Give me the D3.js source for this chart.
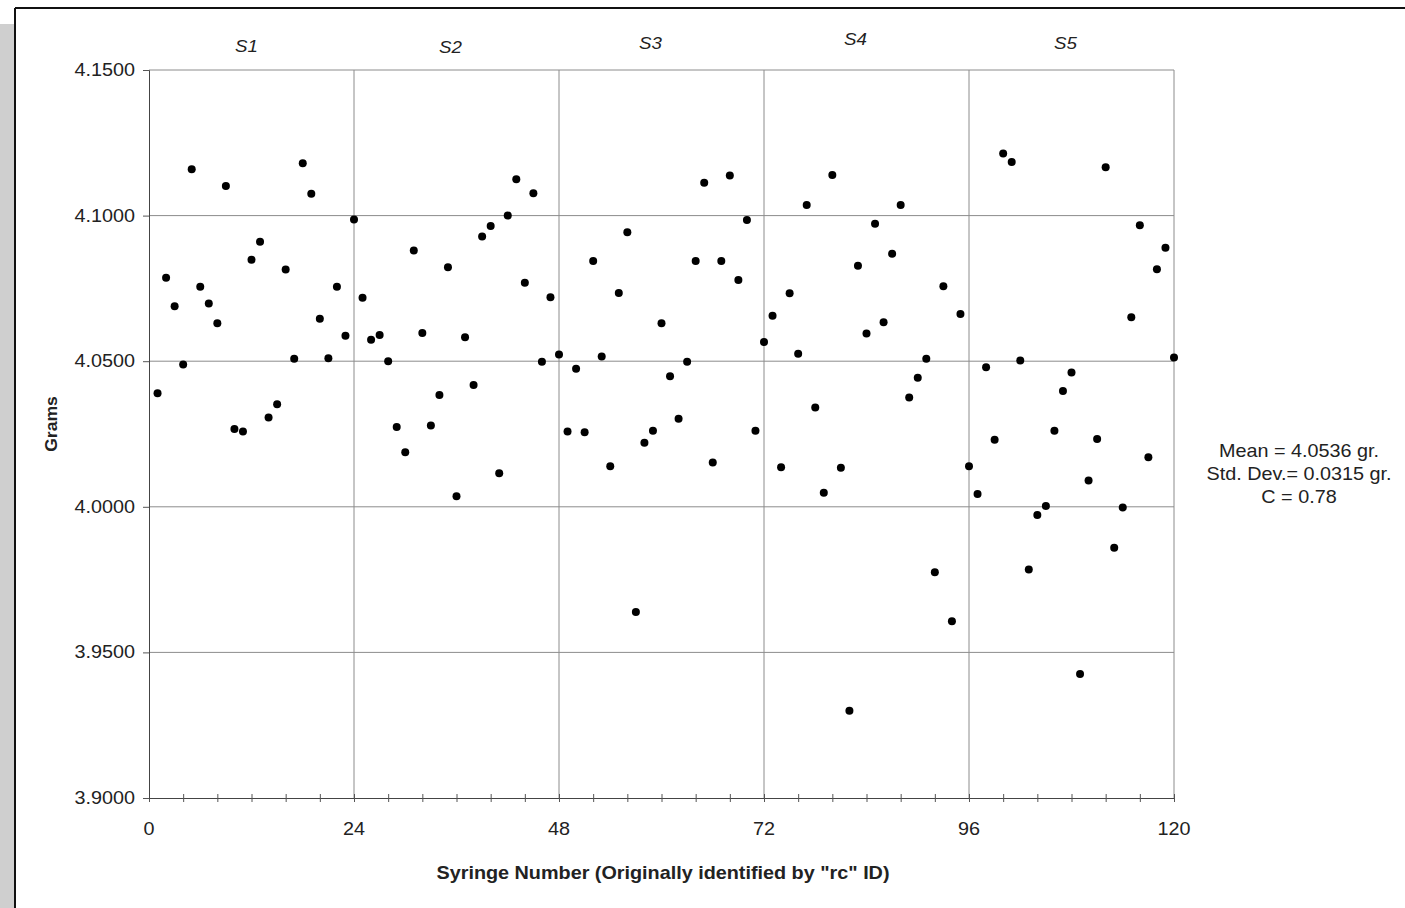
<!DOCTYPE html>
<html>
<head>
<meta charset="utf-8">
<script src="https://cdn.jsdelivr.net/npm/d3@7"></script>
<style>
  body { margin: 0; background: #fff; }
  text { font-family: Arial, "Liberation Sans", sans-serif; fill: #222; }
</style>
</head>
<body>
<svg id="chart" width="1405" height="908"></svg>
<script>
// syringe weights (grams), syringe 1..120
const grams = [
  4.0390, 4.0787, 4.0689, 4.0489, 4.1159, 4.0756, 4.0698, 4.0630, 4.1102, 4.0267,
  4.0259, 4.0848, 4.0910, 4.0307, 4.0352, 4.0815, 4.0508, 4.1180, 4.1075, 4.0646,
  4.0510, 4.0756, 4.0587, 4.0987, 4.0718, 4.0574, 4.0590, 4.0500, 4.0274, 4.0187,
  4.0880, 4.0597, 4.0279, 4.0384, 4.0823, 4.0036, 4.0582, 4.0418, 4.0928, 4.0964,
  4.0115, 4.1000, 4.1125, 4.0769, 4.1077, 4.0498, 4.0720, 4.0523, 4.0259, 4.0474,
  4.0256, 4.0844, 4.0516, 4.0139, 4.0734, 4.0943, 3.9639, 4.0220, 4.0261, 4.0630,
  4.0448, 4.0302, 4.0498, 4.0844, 4.1113, 4.0152, 4.0844, 4.1138, 4.0779, 4.0985,
  4.0261, 4.0566, 4.0656, 4.0136, 4.0733, 4.0526, 4.1036, 4.0341, 4.0048, 4.1139,
  4.0134, 3.9300, 4.0828, 4.0595, 4.0972, 4.0634, 4.0869, 4.1036, 4.0375, 4.0443,
  4.0508, 3.9775, 4.0757, 3.9607, 4.0662, 4.0139, 4.0044, 4.0479, 4.0230, 4.1213,
  4.1184, 4.0502, 3.9785, 3.9972, 4.0003, 4.0261, 4.0398, 4.0461, 3.9426, 4.0090,
  4.0233, 4.1166, 3.9859, 3.9998, 4.0651, 4.0967, 4.0170, 4.0816, 4.0890, 4.0513
]
const syringe = grams.map((g, i) => i + 1)

const xTicks = [0, 24, 48, 72, 96, 120]
const xMinorTicks = d3.range(0, 121, 4)
const yTicks = [3.90, 3.95, 4.00, 4.05, 4.10, 4.15]

const sections = ['S1', 'S2', 'S3', 'S4', 'S5']

const statsLines = ['Mean = 4.0536 gr.', 'Std. Dev.= 0.0315 gr.', 'C = 0.78']

// scanned text is a bit wide
const SX = 1.1
const stretch = (px, py) => `translate(${px},${py}) scale(${SX},1)`

const svg = d3.select('#chart')

// scanned page frame
svg.append('rect').attr('x', 0).attr('y', 24).attr('width', 15).attr('height', 884).attr('fill', '#cfcfcf')
svg.append('line').attr('x1', 15).attr('x2', 1405).attr('y1', 8).attr('y2', 8)
  .attr('stroke', '#111').attr('stroke-width', 2)
svg.append('line').attr('x1', 15).attr('x2', 15).attr('y1', 8).attr('y2', 908)
  .attr('stroke', '#111').attr('stroke-width', 2)

const margin = {top: 70, left: 149}
const innerWidth = 1174 - 149
const innerHeight = 798 - 70

const x = d3.scaleLinear().domain([0, 120]).range([0, innerWidth])
const y = d3.scaleLinear().domain([3.9, 4.15]).range([innerHeight, 0])

const g = svg.append('g').attr('transform', `translate(${margin.left},${margin.top})`)

// grid
g.append('g').selectAll('line')
  .data(yTicks.slice(1))
  .join('line')
  .attr('x1', 0).attr('x2', innerWidth)
  .attr('y1', d => y(d)).attr('y2', d => y(d))
  .attr('stroke', '#8c8c8c').attr('stroke-width', 1)

g.append('g').selectAll('line')
  .data(xTicks.slice(1))
  .join('line')
  .attr('x1', d => x(d)).attr('x2', d => x(d))
  .attr('y1', 0).attr('y2', innerHeight)
  .attr('stroke', '#8c8c8c').attr('stroke-width', 1)

// x axis
const xAxis = g.append('g')
  .attr('transform', `translate(0,${innerHeight})`)
  .call(d3.axisBottom(x).tickValues(xMinorTicks).tickSize(4).tickFormat(''))
xAxis.select('.domain').attr('stroke', '#444')
xAxis.selectAll('.tick line').attr('stroke', '#555').attr('y1', -4)
xAxis.selectAll('.tick text').remove()

g.append('g').selectAll('text')
  .data(xTicks)
  .join('text')
  .attr('transform', d => stretch(x(d), innerHeight + 37))
  .attr('text-anchor', 'middle')
  .style('font-size', '18px')
  .text(d => d)

// y axis
const yAxis = g.append('g')
  .call(d3.axisLeft(y).tickValues(yTicks).tickSize(6).tickFormat(''))
yAxis.select('.domain').attr('stroke', '#444')
yAxis.selectAll('.tick line').attr('stroke', '#555')
yAxis.selectAll('.tick text').remove()

g.append('g').selectAll('text')
  .data(yTicks)
  .join('text')
  .attr('transform', d => stretch(-14, y(d) + 6))
  .attr('text-anchor', 'end')
  .style('font-size', '18px')
  .text(d => d3.format('.4f')(d))

// points
g.append('g').selectAll('circle')
  .data(grams)
  .join('circle')
  .attr('cx', (d, i) => x(syringe[i]))
  .attr('cy', d => y(d))
  .attr('r', 4)
  .attr('fill', '#000')

// section labels (slightly uneven in the scan)
const labelShift = [[-5, 52], [-6, 53], [-11, 49], [-11, 45], [-6, 49]]
g.append('g').selectAll('text')
  .data(sections)
  .join('text')
  .attr('transform', (d, i) => stretch(x(i * 24 + 12) + labelShift[i][0], labelShift[i][1] - margin.top))
  .attr('text-anchor', 'middle')
  .style('font-size', '17px')
  .style('font-style', 'italic')
  .text(d => d)

// axis titles
svg.append('text')
  .attr('transform', stretch(663, 879))
  .attr('text-anchor', 'middle')
  .style('font-size', '18px').style('font-weight', 'bold')
  .text('Syringe Number (Originally identified by "rc" ID)')

svg.append('text')
  .attr('transform', 'translate(57,424) rotate(-90) scale(1.1,1)')
  .attr('text-anchor', 'middle')
  .style('font-size', '16px').style('font-weight', 'bold')
  .text('Grams')

// stats
svg.append('g').selectAll('text')
  .data(statsLines)
  .join('text')
  .attr('transform', (d, i) => stretch(1299, 457 + i * 23))
  .attr('text-anchor', 'middle')
  .style('font-size', '18px')
  .text(d => d)
</script>
</body>
</html>
